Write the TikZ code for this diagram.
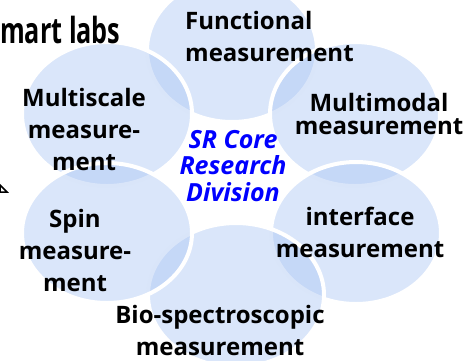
\documentclass[tikz,border=0pt]{standalone}
\usepackage{fontspec}
\setmainfont{Open Sans}
\usetikzlibrary{positioning}
\definecolor{bubblue}{RGB}{169,197,243}

\begin{document}
\begin{tikzpicture}[
		x=1pt, y=-1pt,
		bubble/.style={fill=bubblue, fill opacity=0.43, draw=white, line width=4pt},
		lbl/.style={align=center, inner sep=0pt, font=\bfseries\fontsize{24}{32}\selectfont},
		core/.style={align=center, inner sep=0pt, text=blue, font=\bfseries\itshape\fontsize{25}{26.5}\selectfont}
	]
	\useasboundingbox (0,0) rectangle (464,360);
	\clip (0,0) rectangle (464,360);

	% bubbles, back to front
	\draw [bubble] (232,50)  ellipse [x radius=85, y radius=72] ; % functional
	\draw [bubble] (355,114) ellipse [x radius=85, y radius=72] ; % multimodal
	\draw [bubble] (356,233) ellipse [x radius=85, y radius=71] ; % interface
	\draw [bubble] (236,295) ellipse [x radius=88, y radius=72] ; % bio
	\draw [bubble] (107,114) ellipse [x radius=85, y radius=72] ; % multiscale
	\draw [bubble] (107,233) ellipse [x radius=85, y radius=70] ; % spin

	\node [lbl, align=left, anchor=west] (Func)  at (185,36)  {Functional\\measurement} ;
	\node [lbl, font=\bfseries\fontsize{24}{23}\selectfont] (Mmod) at (379,114) {Multimodal\\measurement} ;
	\node [lbl] (Intf)  at (360,232) {interface\\measurement} ;
	\node [lbl] (Bio)   at (220,330) {Bio-spectroscopic\\measurement} ;
	\node [lbl] (Mscl)  at (84,129)  {Multiscale\\measure-\\ment} ;
	\node [lbl] (Spin)  at (75,250)  {Spin\\measure-\\ment} ;
	\node [core] (Core) at (233,166) {SR Core\\Research\\Division} ;

	\node [anchor=base west, inner sep=0pt, xscale=0.7, font=\bfseries\fontsize{36}{36}\selectfont] (Labs) at (0,43) {mart labs} ;

	% arrow head cut by the left border
	\coordinate (tipA) at (0,185) ;
	\coordinate (tipB) at (7,192) ;
	\coordinate (tipC) at (0,192) ;
	\draw [line width=1.5pt, fill=white] (tipA) -- (tipB) -- (tipC) -- cycle ;
\end{tikzpicture}
\end{document}
